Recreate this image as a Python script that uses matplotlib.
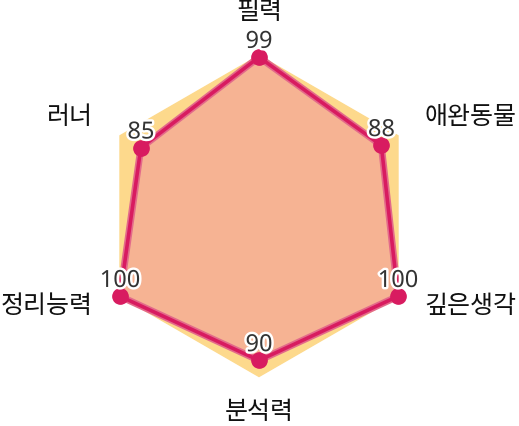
import numpy as np
import matplotlib.pyplot as plt
import matplotlib.patheffects as pe

plt.rcParams['font.family'] = ['Noto Sans CJK KR', 'DejaVu Sans']

# 데이터
labels = ["필력", "애완동물", "깊은생각", "분석력", "정리능력", "러너"]
values = [99, 88, 100, 90, 100, 85]
max_value = 100

n = len(labels)
angles = np.linspace(0, 2 * np.pi, n, endpoint=False)
ang_closed = np.append(angles, angles[0])
val_closed = np.append(values, values[0])
bg_closed = np.full(n + 1, max_value)

fig = plt.figure(figsize=(5.19, 4.27), dpi=100)
cx, cy = 259 / 519, (427 - 217) / 427
rw, rh = 160.5 / 519, 160.5 / 427
ax = fig.add_axes([cx - rw, cy - rh, 2 * rw, 2 * rh], projection='polar')
ax.set_theta_offset(np.pi / 2)
ax.set_theta_direction(-1)
ax.set_ylim(0, max_value)
ax.grid(False)
ax.spines['polar'].set_visible(False)
ax.set_xticks([])
ax.set_yticks([])
ax.patch.set_alpha(0)

# 배경 육각형
ax.fill(ang_closed, bg_closed, color='#FDD98C', zorder=1, clip_on=False)

# 데이터 영역
ax.fill(ang_closed, val_closed, color='#F6B393', zorder=2, clip_on=False)
ax.plot(ang_closed, val_closed, color='#E36A8A', lw=5, zorder=3, clip_on=False)
ax.plot(ang_closed, val_closed, color='#D81B60', lw=2.6, zorder=4, clip_on=False)
ax.plot(angles, values, 'o', color='#D81B60', ms=11, zorder=5, clip_on=False)

# 값 라벨
for a, v in zip(angles, values):
    ax.annotate(str(v), (a, v), xytext=(0, 11), textcoords='offset points',
                ha='center', va='center', fontsize=17, color='#333333',
                family=['Noto Sans', 'DejaVu Sans'], zorder=6,
                annotation_clip=False,
                path_effects=[pe.withStroke(linewidth=3.5, foreground='white')])

# 축 라벨
label_pos = [(259, 12), (470, 117), (470, 306), (259, 412), (47, 306), (70, 117)]
for text, (x, y) in zip(labels, label_pos):
    fig.text(x / 519, 1 - y / 427, text, ha='center', va='center',
             fontsize=18, color='#111111')

fig.savefig('out.png', dpi=100)
